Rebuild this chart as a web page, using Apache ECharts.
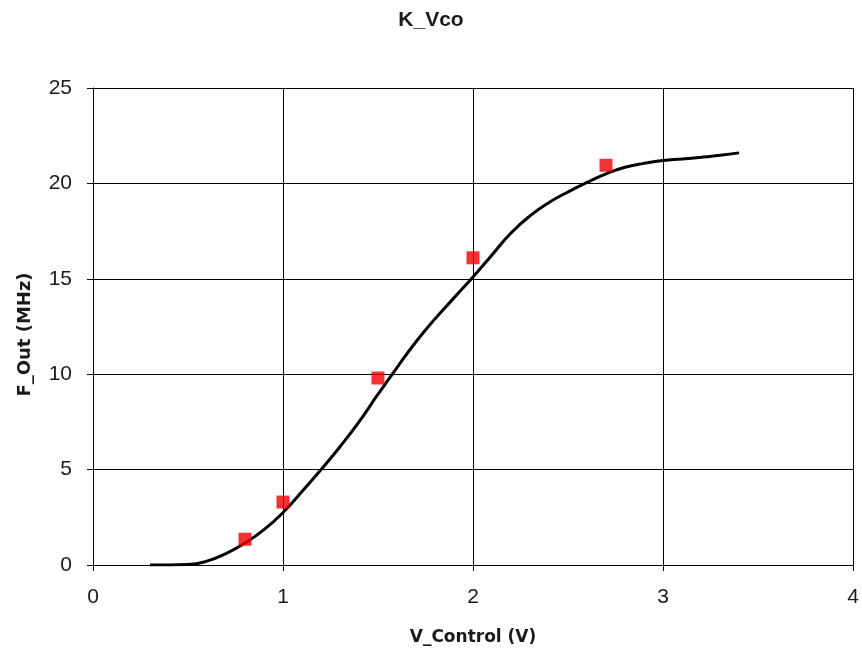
<!DOCTYPE html>
<html>
<head>
<meta charset="utf-8">
<script src="https://cdn.jsdelivr.net/npm/echarts@6/dist/echarts.min.js"></script>
<style>
html,body{margin:0;padding:0;background:#fff;}
#chart{width:862px;height:653px;}
</style>
</head>
<body>
<div id="chart"></div>
<script>
// Curve: V_Control (V) vs F_Out (MHz)
const curveX = [0.3,0.4,0.5,0.6,0.7,0.8,0.9,1.0,1.1,1.2,1.3,1.4,1.5,1.6,1.7,1.8,1.9,2.0,2.1,2.2,2.3,2.4,2.5,2.6,2.7,2.8,2.9,3.0,3.1,3.2,3.3,3.4];
const curveY = [0,0,0.02,0.2,0.6,1.15,1.85,2.75,3.85,5.0,6.2,7.5,8.95,10.35,11.7,12.9,14.0,15.1,16.25,17.4,18.3,19.0,19.55,20.05,20.5,20.85,21.05,21.2,21.28,21.37,21.47,21.6];
// Measured points
const measX = [0.8,1.0,1.5,2.0,2.7];
const measY = [1.35,3.3,9.8,16.1,20.95];
const xTicks = [0,1,2,3,4];
const yTicks = [0,5,10,15,20,25];

const chart = echarts.init(document.getElementById('chart'), null, {renderer:'canvas'});
const lineData = curveX.map((x,i)=>[x,curveY[i]]);
const ptData = measX.map((x,i)=>[x,measY[i]]);
const tickFont = {fontFamily:'Liberation Sans', fontSize:21, color:'#1a1a1a'};
chart.setOption({
  animation:false,
  backgroundColor:'#ffffff',
  title:{text:'K_Vco', left:'center', top:5,
    textStyle:{fontFamily:'Liberation Sans', fontWeight:'bold', fontSize:21, color:'#1a1a1a'}},
  grid:{left:93, right:9, top:88, bottom:88, containLabel:false},
  xAxis:{type:'value', min:xTicks[0], max:xTicks[xTicks.length-1], interval:1,
    name:'V_Control (V)', nameLocation:'middle', nameGap:64,
    nameTextStyle:{fontFamily:'DejaVu Sans', fontWeight:'bold', fontSize:17, color:'#1a1a1a'},
    axisLine:{onZero:false, lineStyle:{color:'#000', width:1}},
    axisTick:{show:true, inside:false, length:6, lineStyle:{color:'#000'}},
    axisLabel:{margin:22, ...tickFont},
    splitLine:{show:true, lineStyle:{color:'#000', width:1}}
  },
  yAxis:{type:'value', min:yTicks[0], max:yTicks[yTicks.length-1], interval:5,
    name:'F_Out (MHz)', nameLocation:'middle', nameGap:59, nameRotate:90,
    nameTextStyle:{fontFamily:'DejaVu Sans', fontWeight:'bold', fontSize:18, color:'#1a1a1a', padding:[0,16,0,0]},
    axisLine:{show:true, lineStyle:{color:'#000', width:1}},
    axisTick:{show:true, inside:false, length:6, lineStyle:{color:'#000'}},
    axisLabel:{margin:21, ...tickFont},
    splitLine:{show:true, lineStyle:{color:'#000', width:1}}
  },
  series:[
    {type:'line', data:lineData, smooth:0.5, showSymbol:false, symbol:'none',
     lineStyle:{color:'#000', width:3}, z:2},
    {type:'scatter', data:ptData, symbol:'rect', symbolSize:13,
     itemStyle:{color:'#f00000'}, z:3}
  ]
});
</script>
</body>
</html>
